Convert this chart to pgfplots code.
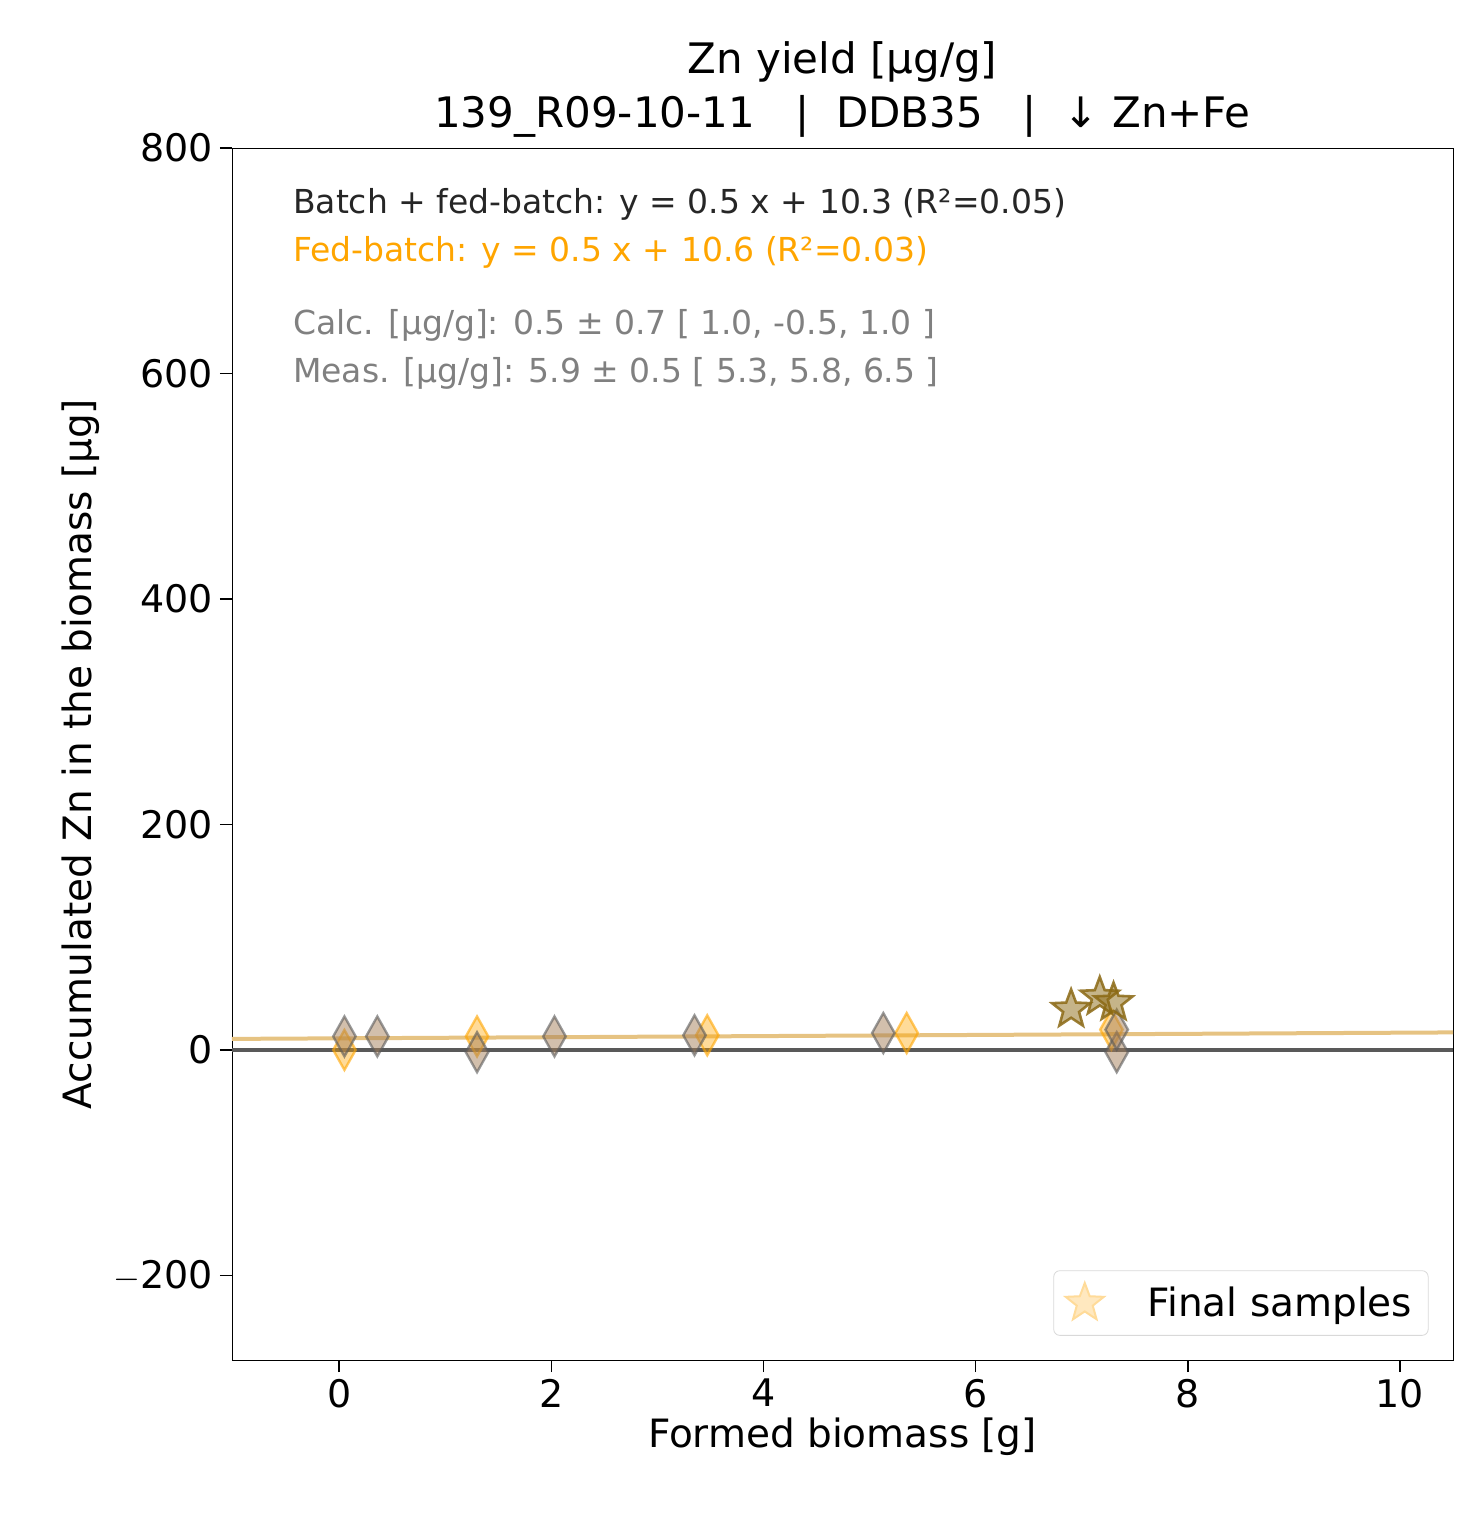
\documentclass[border=0pt]{standalone}
\usepackage{pgfplots}
\pgfplotsset{compat=1.18}
\usepackage{fontspec}
\setmainfont{DejaVu Sans}
\definecolor{org}{HTML}{FFA500}
\definecolor{brn}{HTML}{8B6914}
\pgfdeclareplotmark{fstar}{%
\pgfpathmoveto{\pgfqpointpolar{90}{\pgfplotmarksize}}%
\pgfpathlineto{\pgfqpointpolar{126}{0.42\pgfplotmarksize}}%
\pgfpathlineto{\pgfqpointpolar{162}{\pgfplotmarksize}}%
\pgfpathlineto{\pgfqpointpolar{198}{0.42\pgfplotmarksize}}%
\pgfpathlineto{\pgfqpointpolar{234}{\pgfplotmarksize}}%
\pgfpathlineto{\pgfqpointpolar{270}{0.42\pgfplotmarksize}}%
\pgfpathlineto{\pgfqpointpolar{306}{\pgfplotmarksize}}%
\pgfpathlineto{\pgfqpointpolar{342}{0.42\pgfplotmarksize}}%
\pgfpathlineto{\pgfqpointpolar{18}{\pgfplotmarksize}}%
\pgfpathlineto{\pgfqpointpolar{54}{0.42\pgfplotmarksize}}%
\pgfpathclose\pgfusepathqfillstroke}
\begin{document}
\begin{tikzpicture}
\useasboundingbox (-116pt,-80.5pt) rectangle (625pt,680pt);
\begin{axis}[at={(0,0)},anchor=south west,scale only axis,width=610.5pt,height=606pt,
xmin=-1.01,xmax=10.5,ymin=-275,ymax=800,
xtick={0,2,...,10},ytick={-200,0,200,400,600,800},
yticklabels={$-$200,0,200,400,600,800},
xtick pos=left,ytick pos=left,
tick style={black,thick},tick align=outside,major tick length=6pt,
/pgf/number format/assume math mode=true,
ticklabel style={font=\fontsize{19}{22}\selectfont},
label style={font=\fontsize{19.5}{23}\selectfont},
xlabel style={yshift=2pt},
xlabel={Formed biomass [g]},ylabel={Accumulated Zn in the biomass [µg]},
title style={font=\fontsize{21}{27}\selectfont,align=center,yshift=-4pt},
title={Zn yield [µg/g]\\139\_R09-10-11 \ \ | \ DDB35 \ \ | \ ↓ Zn+Fe},
legend style={at={(0.98,0.02)},anchor=south east,draw=gray!30,rounded corners=3pt,font=\fontsize{19.5}{23}\selectfont,inner sep=6pt},
legend cell align=left,
]
\addplot[black!65,line width=2pt,forget plot] coordinates {(-1.01,0)(10.5,0)};
\addplot[color={rgb,255:red,230;green,195;blue,130},line width=2pt,forget plot] coordinates {(-1.01,9.8)(10.5,15.55)};
\addplot[only marks,mark=diamond*,mark size=10pt,mark options={xscale=0.75},draw=org,fill=org,fill opacity=0.4,draw opacity=0.6,line width=1.2pt,forget plot] coordinates {(0.05,0)(1.3,12)(3.47,13)(5.35,15)(7.28,18)};
\addplot[only marks,mark=diamond*,mark size=10pt,mark options={xscale=0.75},draw=gray!70!black,fill=brown!60!gray,fill opacity=0.5,draw opacity=0.6,line width=1.2pt,forget plot] coordinates {(0.05,12)(0.36,12)(1.3,-2)(2.03,12)(3.35,13)(5.13,15)(7.33,-2)(7.33,18)};
\addplot[only marks,mark=fstar,mark size=10pt,line width=1.3pt,draw=brn,fill=brn,fill opacity=0.5,draw opacity=0.85,forget plot] coordinates {(6.9,36)(7.17,47)(7.3,42)};
\addlegendimage{only marks,mark=fstar,mark size=10pt,line width=1pt,draw=org!40,fill=org!25}
\addlegendentry{\hspace{20pt}Final samples}
\node[anchor=west,font=\fontsize{16.5}{19}\selectfont,text=black!85] at (axis cs:-0.5,750) {Batch + fed-batch: y = 0.5 x + 10.3 (R²=0.05)};
\node[anchor=west,font=\fontsize{16.5}{19}\selectfont,text=org] at (axis cs:-0.5,707) {Fed-batch: y = 0.5 x + 10.6 (R²=0.03)};
\node[anchor=west,font=\fontsize{16.5}{19}\selectfont,text=gray] at (axis cs:-0.5,643) {Calc. [µg/g]: 0.5 ± 0.7 [ 1.0, -0.5, 1.0 ]};
\node[anchor=west,font=\fontsize{16.5}{19}\selectfont,text=gray] at (axis cs:-0.5,600) {Meas. [µg/g]: 5.9 ± 0.5 [ 5.3, 5.8, 6.5 ]};
\end{axis}
\end{tikzpicture}
\end{document}
